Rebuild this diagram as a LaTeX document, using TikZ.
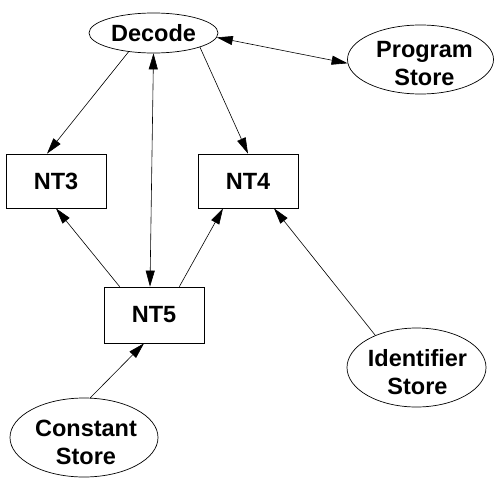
\documentclass[tikz,border=0pt]{standalone}
\usepackage{fontspec}
\setmainfont{Liberation Sans}
\usetikzlibrary{shapes.geometric,arrows.meta,calc}
\begin{document}
\begin{tikzpicture}[x=1pt,y=-1pt,
  lbl/.style={font=\fontsize{23.5}{28}\selectfont\bfseries, align=center, inner sep=0pt},
  oval/.style={lbl, draw, ellipse, line width=0.7pt},
  boxnode/.style={lbl, draw, rectangle, line width=0.7pt, minimum width=100pt, minimum height=54pt},
  conn/.style={line width=0.6pt, -{Triangle[length=16pt,width=9pt]}},
  biconn/.style={line width=0.6pt, {Triangle[length=16pt,width=9pt]}-{Triangle[length=16pt,width=9pt]}}]
\useasboundingbox (0,0) rectangle (494,479);
\node[oval, minimum width=129pt, minimum height=40pt] (dec) at (153.5,33) {Decode};
\node[oval, minimum width=146pt, minimum height=69pt] (ps) at (420.5,59.5) {};
\node[lbl] (pst) at ([xshift=4pt,yshift=-4pt]ps.center) {Program\\Store};
\node[boxnode] (nt3) at (56,181) {NT3};
\node[boxnode] (nt4) at (248,181) {NT4};
\node[boxnode, minimum height=56pt] (nt5) at (154,315) {NT5};
\node[oval, minimum width=139pt, minimum height=79pt] (ids) at (416.5,367.5) {};
\node[lbl] (idst) at ([xshift=1pt,yshift=-4.5pt]ids.center) {Identifier\\Store};
\node[oval, minimum width=148pt, minimum height=79pt] (cst) at (84,437.5) {};
\node[lbl] (cstt) at ([xshift=2pt,yshift=-5pt]cst.center) {Constant\\Store};
\draw[conn] (dec.217) -- ([xshift=-9pt]nt3.north);
\draw[conn] (dec.343) -- (nt4.north);
\draw[biconn] (dec.south) -- ([xshift=-4pt]nt5.north);
\draw[biconn] (dec.356) -- (ps.183);
\draw[conn] ([xshift=16pt]nt5.north west) -- (nt3.south);
\draw[conn] ([xshift=-25pt]nt5.north east) -- ([xshift=-25pt]nt4.south);
\draw[conn] (ids.142) -- ([xshift=26pt]nt4.south);
\draw[conn] (cst.81) -- ([xshift=-10pt]nt5.south);
\end{tikzpicture}
\end{document}
